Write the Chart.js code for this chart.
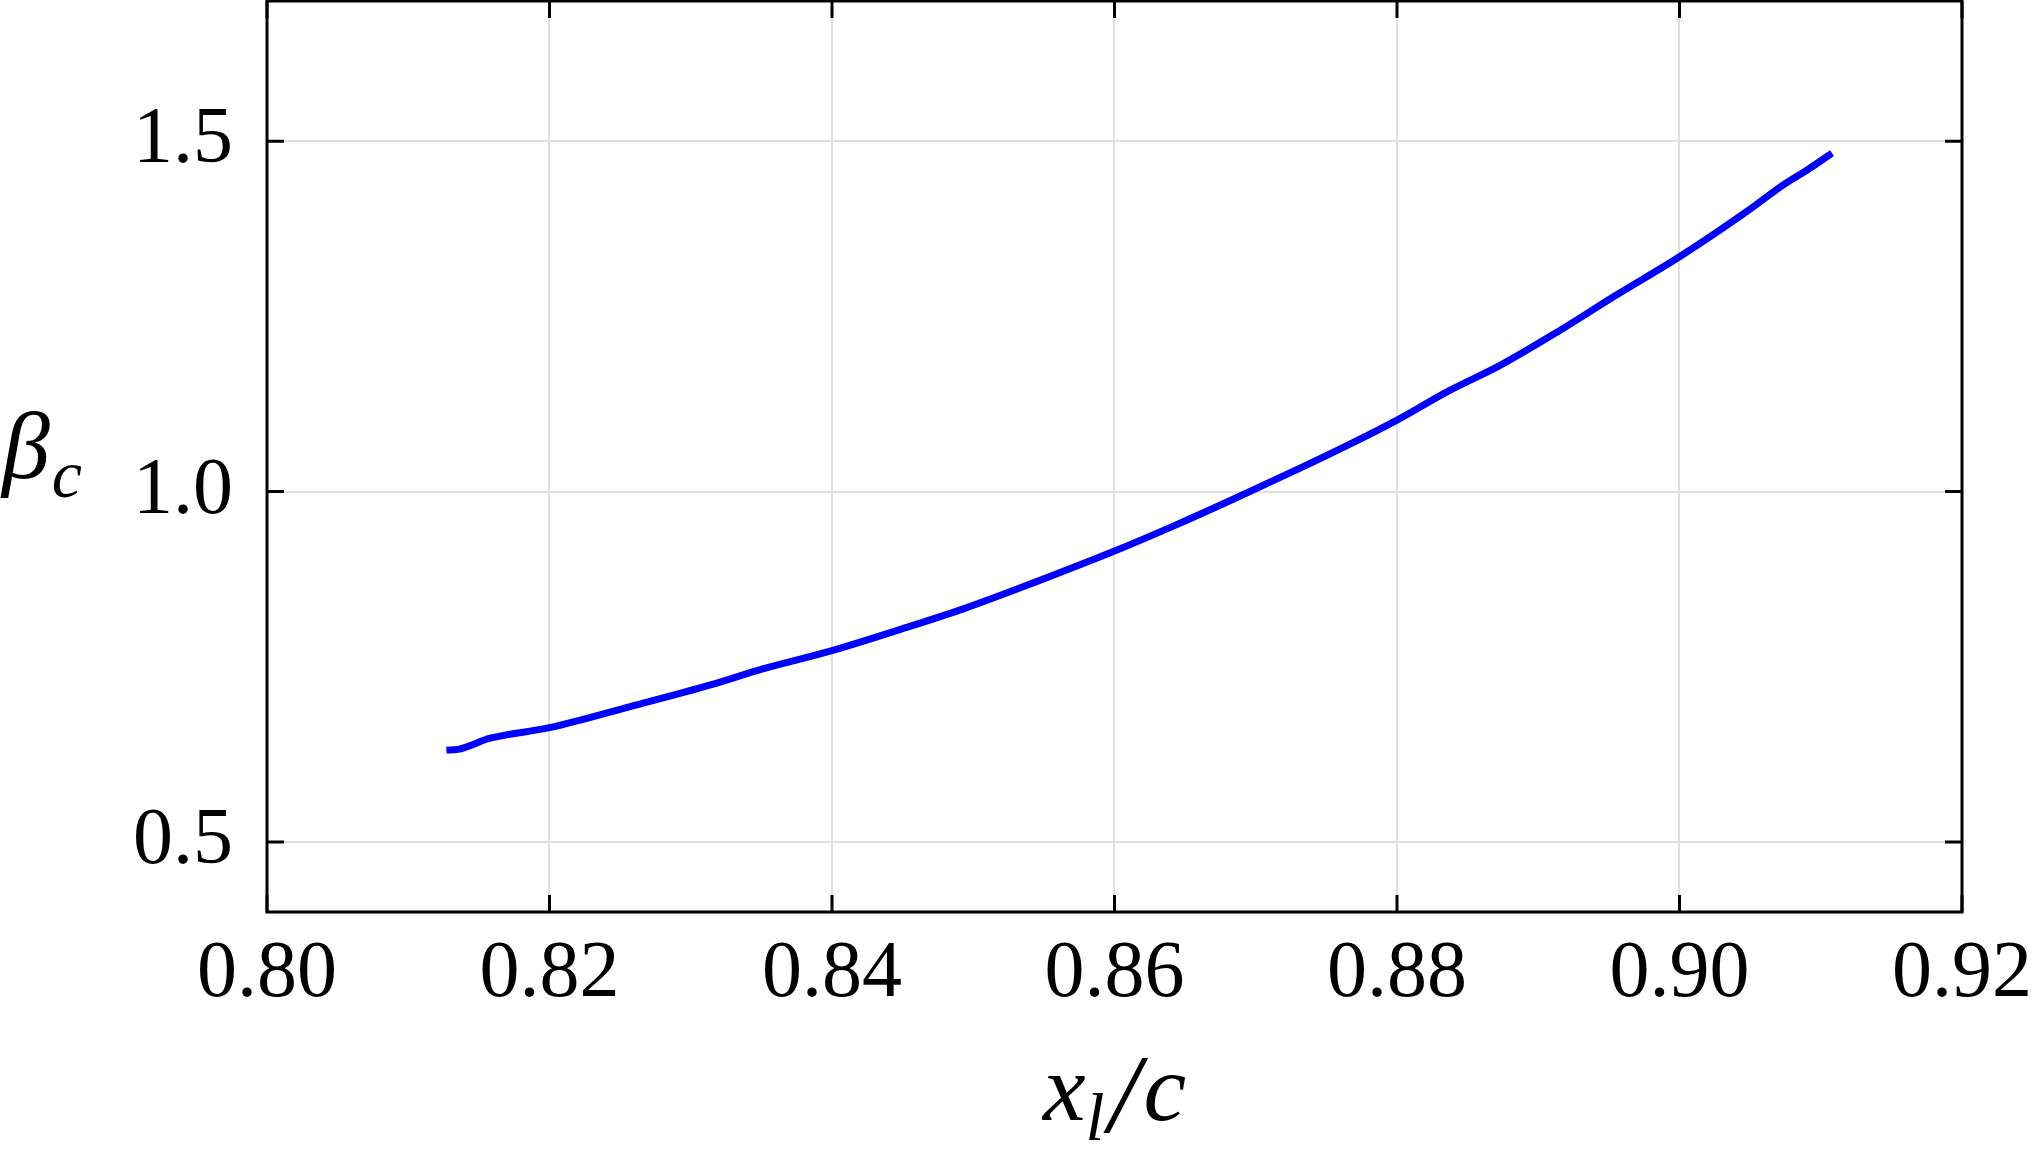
<!DOCTYPE html>
<html>
<head>
<meta charset="utf-8">
<script src="https://cdn.jsdelivr.net/npm/chart.js@4.4.0/dist/chart.umd.min.js"></script>
<style>
html, body { margin: 0; padding: 0; background: #fff; }
canvas { display: block; }
</style>
</head>
<body>
<canvas id="betaChart" width="2035" height="1149"></canvas>
<script>
// curve
const xlc = [0.8127, 0.8135, 0.8158, 0.8200, 0.8257, 0.8314, 0.8351, 0.8400, 0.8448, 0.8495,
    0.8543, 0.8600, 0.8642, 0.8684, 0.8731, 0.8767, 0.8800, 0.8837, 0.8873, 0.8913,
    0.8955, 0.9000, 0.9050, 0.9073, 0.9092, 0.9108];
const betaC = [0.631, 0.632, 0.648, 0.663, 0.693, 0.724, 0.747, 0.773, 0.803, 0.834,
    0.870, 0.915, 0.951, 0.989, 1.033, 1.068, 1.102, 1.144, 1.180, 1.227,
    1.280, 1.335, 1.403, 1.437, 1.461, 1.483];
const xTicks = [0.80, 0.82, 0.84, 0.86, 0.88, 0.90, 0.92];
const yTicks = [0.5, 1.0, 1.5];

const serif = '"Liberation Serif", "Times New Roman", serif';

// box round the plot, with inward ticks on all four sides
const frame = {
    id: 'frame',
    afterDatasetsDraw(chart) {
        const { ctx, chartArea: a, scales } = chart;
        const len = 17;
        ctx.save();
        ctx.strokeStyle = '#000';
        ctx.lineWidth = 3;
        ctx.beginPath();
        xTicks.forEach(v => {
            const px = scales.x.getPixelForValue(v);
            ctx.moveTo(px, a.bottom); ctx.lineTo(px, a.bottom - len);
            ctx.moveTo(px, a.top); ctx.lineTo(px, a.top + len);
        });
        yTicks.forEach(v => {
            const py = scales.y.getPixelForValue(v);
            ctx.moveTo(a.left, py); ctx.lineTo(a.left + len, py);
            ctx.moveTo(a.right, py); ctx.lineTo(a.right - len, py);
        });
        ctx.stroke();
        ctx.strokeRect(a.left, a.top, a.right - a.left, a.bottom - a.top);
        ctx.restore();
    }
};

// axis titles with subscripts
const titles = {
    id: 'titles',
    afterDraw(chart) {
        const { ctx, chartArea: a } = chart;
        const big = 'italic 96px ' + serif;
        const small = 'italic 68px ' + serif;
        ctx.save();
        ctx.fillStyle = '#000';
        ctx.textBaseline = 'alphabetic';
        ctx.textAlign = 'left';

        // x_l / c
        const parts = [
            { t: 'x', f: big, dy: 0, gap: 0 },
            { t: 'l', f: small, dy: 20, gap: 4 },
            { t: '/', f: 'italic 112px ' + serif, dy: 12, gap: 4 },
            { t: 'c', f: big, dy: 0, gap: 0 }
        ];
        let total = 0;
        parts.forEach(p => { ctx.font = p.f; p.w = ctx.measureText(p.t).width + p.gap; total += p.w; });
        let x = (a.left + a.right) / 2 - total / 2;
        const base = 1120;
        parts.forEach(p => {
            ctx.font = p.f;
            ctx.fillText(p.t, x, base + p.dy);
            x += p.w;
        });

        // beta_c
        ctx.font = big;
        ctx.fillText('β', 2, 478);
        const bw = ctx.measureText('β').width;
        ctx.font = small;
        ctx.fillText('c', 2 + bw + 2, 497);
        ctx.restore();
    }
};

const ctx = document.getElementById('betaChart').getContext('2d');
const chart = new Chart(ctx, {
    type: 'line',
    data: {
        datasets: [{
            data: xlc.map((v, i) => ({ x: v, y: betaC[i] })),
            borderColor: '#0000ff',
            borderWidth: 7,
            pointRadius: 0,
            cubicInterpolationMode: 'monotone',
            fill: false
        }]
    },
    options: {
        responsive: false,
        animation: false,
        layout: { padding: { top: 1, right: 73, left: 0, bottom: 0 } },
        plugins: {
            legend: { display: false },
            tooltip: { enabled: false }
        },
        scales: {
            x: {
                type: 'linear',
                min: 0.80,
                max: 0.92,
                afterBuildTicks: s => { s.ticks = xTicks.map(v => ({ value: v })); },
                afterFit: s => { s.height = 237; s.paddingLeft = 0; s.paddingRight = 0; },
                grid: { color: '#e0e0e0', lineWidth: 2, drawTicks: false },
                border: { display: false },
                ticks: {
                    color: '#000',
                    padding: 15,
                    maxRotation: 0,
                    font: { family: serif, size: 80 },
                    callback: v => v.toFixed(2)
                }
            },
            y: {
                min: 0.4,
                max: 1.7,
                afterBuildTicks: s => { s.ticks = yTicks.map(v => ({ value: v })); },
                afterFit: s => { s.width = 267; s.paddingTop = 0; s.paddingBottom = 0; },
                grid: { color: '#e0e0e0', lineWidth: 2, drawTicks: false },
                border: { display: false },
                ticks: {
                    color: '#000',
                    padding: 34,
                    font: { family: serif, size: 80 },
                    callback: v => v.toFixed(1)
                }
            }
        }
    },
    plugins: [frame, titles]
});
</script>
</body>
</html>
